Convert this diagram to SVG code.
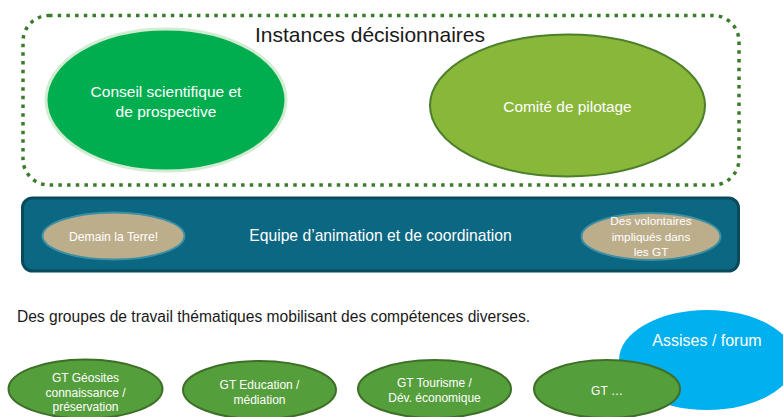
<svg xmlns="http://www.w3.org/2000/svg" width="783" height="417" viewBox="0 0 783 417">
<style>
text{font-family:"Liberation Sans",Arial,sans-serif;text-anchor:middle}
.w{fill:#ffffff}
.k{fill:#1a1a1a}
.gt{fill:#559e3c;stroke:#3e6f27;stroke-width:2}
.tan{fill:#bdae8b;stroke:#3d8fa3;stroke-width:2}
</style>
<g id="instances">
<rect x="23" y="15.5" width="716" height="169.5" rx="26" ry="26" fill="none" stroke="#3b7b2c" stroke-width="3.5" stroke-dasharray="3.5 5.2"/>
<text class="k" x="370" y="42" font-size="21">Instances décisionnaires</text>
</g>
<g id="conseil">
<ellipse cx="166" cy="100" rx="120" ry="71" fill="#00ae4f" stroke="#d2ecd2" stroke-width="3"/>
<text class="w" x="166" y="97" font-size="15.5">Conseil scientifique et</text>
<text class="w" x="166" y="117" font-size="15.5">de prospective</text>
</g>
<g id="comite">
<ellipse cx="567.5" cy="105.5" rx="137.5" ry="71" fill="#89b73a" stroke="#4b7f29" stroke-width="2"/>
<text class="w" x="567.5" y="112" font-size="15.4">Comité de pilotage</text>
</g>
<g id="equipe">
<rect x="22.5" y="198" width="716" height="73" rx="10" ry="10" fill="#0b6782" stroke="#0a4a5d" stroke-width="3"/>
<text class="w" x="380.5" y="241" font-size="15.7">Equipe d’animation et de coordination</text>
</g>
<g id="demain">
<ellipse cx="113.5" cy="236" rx="71" ry="23.5" class="tan"/>
<text class="w" x="113.5" y="241" font-size="12.2">Demain la Terre!</text>
</g>
<g id="volontaires">
<ellipse cx="651" cy="236.5" rx="69.5" ry="23.5" class="tan"/>
<text class="w" x="651" y="225" font-size="11.8">Des volontaires</text>
<text class="w" x="651" y="241" font-size="11.8">impliqués dans</text>
<text class="w" x="651" y="256" font-size="11.8">les GT</text>
</g>
<g id="groupes-label">
<text class="k" x="273.5" y="322" font-size="15.6">Des groupes de travail thématiques mobilisant des compétences diverses.</text>
</g>
<g id="assises">
<ellipse cx="707" cy="360" rx="88" ry="50" fill="#00b0ef"/>
<text class="w" x="707" y="346" font-size="16">Assises / forum</text>
</g>
<g id="gt-geosites">
<ellipse cx="85.5" cy="389" rx="77" ry="29.5" class="gt"/>
<text class="w" x="85.5" y="382" font-size="12">GT Géosites</text>
<text class="w" x="85.5" y="396.5" font-size="12">connaissance /</text>
<text class="w" x="85.5" y="411" font-size="12">préservation</text>
</g>
<g id="gt-education">
<ellipse cx="259.5" cy="390" rx="76.5" ry="29" class="gt"/>
<text class="w" x="259.5" y="389" font-size="12">GT Education /</text>
<text class="w" x="259.5" y="404" font-size="12">médiation</text>
</g>
<g id="gt-tourisme">
<ellipse cx="434.5" cy="389" rx="76.5" ry="29" class="gt"/>
<text class="w" x="434.5" y="387" font-size="12">GT Tourisme /</text>
<text class="w" x="434.5" y="402" font-size="12">Dév. économique</text>
</g>
<g id="gt-autre">
<ellipse cx="607" cy="389" rx="73" ry="29" class="gt"/>
<text class="w" x="607" y="395" font-size="12">GT …</text>
</g>
<g id="connectors"/>
</svg>
